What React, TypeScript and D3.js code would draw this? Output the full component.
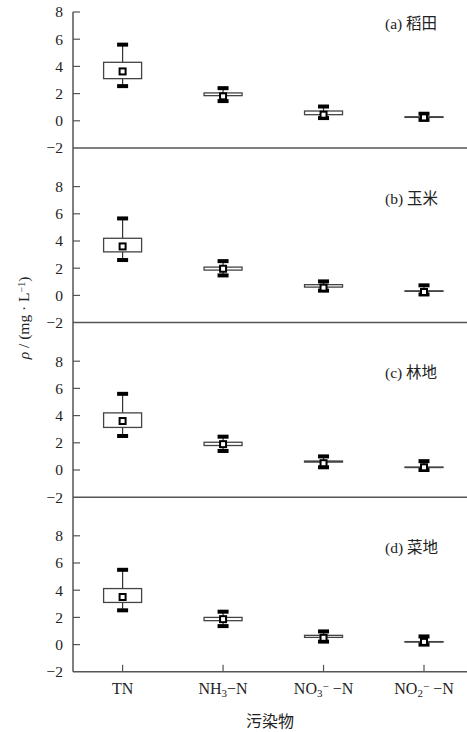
import React, { useEffect, useRef } from "react";
import * as d3 from "d3";

// categories along the bottom axis
const categories = ["TN", "NH3-N", "NO3-N", "NO2-N"];
const panelLabels = ["(a) 稻田", "(b) 玉米", "(c) 林地", "(d) 菜地"];
const yTicks = [-2, 0, 2, 4, 6, 8];

// each entry: [min, q1, q3, max, mean] for TN, NH3-N, NO3-N, NO2-N
const paddy = [
  [2.55, 3.1, 4.3, 5.6, 3.63],
  [1.45, 1.85, 2.05, 2.4, 1.8],
  [0.2, 0.45, 0.72, 1.05, 0.45],
  [0.07, 0.25, 0.3, 0.52, 0.25],
];
const maize = [
  [2.6, 3.2, 4.2, 5.66, 3.6],
  [1.47, 1.86, 2.08, 2.52, 1.96],
  [0.35, 0.61, 0.79, 1.03, 0.57],
  [0.07, 0.3, 0.34, 0.74, 0.25],
];
const forest = [
  [2.5, 3.13, 4.2, 5.6, 3.6],
  [1.4, 1.8, 2.04, 2.45, 1.9],
  [0.2, 0.58, 0.66, 1.0, 0.5],
  [0.0, 0.18, 0.22, 0.65, 0.2],
];
const vegetable = [
  [2.52, 3.1, 4.12, 5.5, 3.5],
  [1.36, 1.76, 2.0, 2.42, 1.87],
  [0.22, 0.53, 0.68, 0.97, 0.5],
  [0.0, 0.18, 0.22, 0.6, 0.2],
];
const panelData = [paddy, maize, forest, vegetable];

const FONT = "'Liberation Serif', 'Times New Roman', 'Noto Sans CJK SC', serif";

const App = () => {
  const svgRef = useRef<SVGSVGElement>(null);

  useEffect(() => {
    const width = 467,
      height = 732,
      axisX = 73,
      firstBottom = 148,
      panelStep = 174.6,
      unitSpan = 136;

    const svg = d3.select(svgRef.current).attr("width", width).attr("height", height);
    svg.selectAll("*").remove();

    const x = d3.scalePoint<string>().domain(categories).range([122.6, 424]);
    const bottoms = panelData.map((_, i) => firstBottom + i * panelStep);

    panelData.forEach((stats, i) => {
      const bottom = bottoms[i];
      const y = d3.scaleLinear().domain([-2, 8]).range([bottom, bottom - unitSpan]);
      const g = svg.append("g");

      // horizontal baseline at -2
      g.append("line")
        .attr("x1", axisX).attr("x2", width)
        .attr("y1", y(-2)).attr("y2", y(-2))
        .attr("stroke", "#555").attr("stroke-width", 1.5);

      // ticks pointing inward
      g.selectAll(".ytick")
        .data(yTicks.filter(t => t > -2))
        .join("line")
        .attr("x1", axisX).attr("x2", axisX + 7)
        .attr("y1", d => y(d)).attr("y2", d => y(d))
        .attr("stroke", "#555").attr("stroke-width", 1.2);

      g.selectAll(".ylab")
        .data(yTicks)
        .join("text")
        .attr("x", 63)
        .attr("y", d => y(d))
        .attr("dy", "0.35em")
        .attr("text-anchor", "end")
        .attr("font-family", FONT)
        .attr("font-size", 15.5)
        .attr("fill", "#222")
        .text(d => (d < 0 ? "\u2212" + Math.abs(d) : String(d)));

      // panel title
      g.append("text")
        .attr("x", 385)
        .attr("y", y(8) + 11.5)
        .attr("dy", "0.35em")
        .attr("font-family", FONT)
        .attr("font-size", 15.5)
        .attr("fill", "#222")
        .text(panelLabels[i]);

      // boxes
      const boxes = g.selectAll(".box")
        .data(stats)
        .join("g")
        .attr("transform", (_, j) => `translate(${x(categories[j])},0)`);

      boxes.append("line")
        .attr("y1", d => y(d[3])).attr("y2", d => y(d[2]))
        .attr("stroke", "#333").attr("stroke-width", 1.2);
      boxes.append("line")
        .attr("y1", d => y(d[1])).attr("y2", d => y(d[0]))
        .attr("stroke", "#333").attr("stroke-width", 1.2);

      boxes.append("rect")
        .attr("x", -19)
        .attr("width", 38)
        .attr("y", d => y(d[2]))
        .attr("height", d => Math.max(y(d[1]) - y(d[2]), 0.5))
        .attr("fill", "#fff")
        .attr("stroke", "#444")
        .attr("stroke-width", 1.3);

      // min / max caps
      [0, 3].forEach(k => {
        boxes.append("rect")
          .attr("x", -5.5).attr("width", 11)
          .attr("y", d => y(d[k]) - 2).attr("height", 4)
          .attr("fill", "#000");
      });

      // mean marker
      boxes.append("rect")
        .attr("x", -3).attr("width", 6)
        .attr("y", d => y(d[4]) - 3).attr("height", 6)
        .attr("fill", "#fff")
        .attr("stroke", "#000")
        .attr("stroke-width", 2);
    });

    // left axis line
    const lastBottom = bottoms[bottoms.length - 1];
    svg.append("line")
      .attr("x1", axisX).attr("x2", axisX)
      .attr("y1", firstBottom - unitSpan).attr("y2", lastBottom)
      .attr("stroke", "#555").attr("stroke-width", 1.5);

    // bottom ticks pointing up
    svg.selectAll(".xtick")
      .data(categories)
      .join("line")
      .attr("x1", d => x(d)!).attr("x2", d => x(d)!)
      .attr("y1", lastBottom).attr("y2", lastBottom - 7)
      .attr("stroke", "#555").attr("stroke-width", 1.2);

    // category labels with sub/superscripts
    const labelParts: [string, string][][] = [
      [["TN", ""]],
      [["NH", ""], ["3", "sub"], ["\u2212N", ""]],
      [["NO", ""], ["3", "sub"], ["\u2212", "sup"], [" \u2212N", ""]],
      [["NO", ""], ["2", "sub"], ["\u2212", "sup"], [" \u2212N", ""]],
    ];
    categories.forEach((c, j) => {
      const t = svg.append("text")
        .attr("x", x(c)!)
        .attr("y", 694)
        .attr("text-anchor", "middle")
        .attr("font-family", FONT)
        .attr("font-size", 16)
        .attr("fill", "#222");
      labelParts[j].forEach(([s, kind]) => {
        const ts = t.append("tspan").text(s);
        if (kind === "sub") ts.attr("font-size", 11).attr("baseline-shift", "-30%");
        if (kind === "sup") ts.attr("font-size", 11).attr("baseline-shift", "40%");
      });
    });

    svg.append("text")
      .attr("x", 270)
      .attr("y", 721)
      .attr("dy", "0.35em")
      .attr("text-anchor", "middle")
      .attr("font-family", FONT)
      .attr("font-size", 16)
      .attr("fill", "#222")
      .text("污染物");

    // y axis title
    const yt = svg.append("text")
      .attr("transform", "translate(29,318) rotate(-90)")
      .attr("text-anchor", "middle")
      .attr("font-family", FONT)
      .attr("font-size", 15.5)
      .attr("fill", "#222");
    yt.append("tspan").attr("font-style", "italic").text("\u03c1");
    yt.append("tspan").text(" / (mg \u00b7 L");
    yt.append("tspan").attr("font-size", 10).attr("baseline-shift", "40%").text("\u22121");
    yt.append("tspan").text(")");
  }, []);

  return (
    <svg
      ref={svgRef}
      style={{ position: "absolute", left: 0, top: 0, background: "#fff" }}
    ></svg>
  );
};

export default App;
